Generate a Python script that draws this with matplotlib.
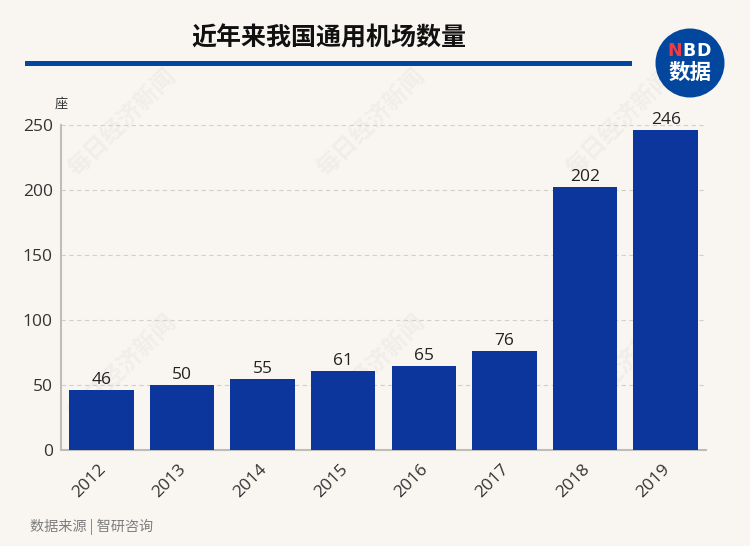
import matplotlib
matplotlib.use('Agg')
import matplotlib.pyplot as plt
from matplotlib.patches import Circle, Rectangle
from matplotlib.transforms import ScaledTranslation

plt.rcParams['font.family'] = ['Noto Sans CJK SC', 'DejaVu Sans']

years = ['2012', '2013', '2014', '2015', '2016', '2017', '2018', '2019']
counts = [46, 50, 55, 61, 65, 76, 202, 246]
y_ticks = [0, 50, 100, 150, 200, 250]

W, H = 750, 546
BG = '#f9f6f2'
BAR = '#0d369c'
NAVY = '#02479d'
NUM_FONT = 'Open Sans'

fig = plt.figure(figsize=(W / 100, H / 100), dpi=100, facecolor=BG)

# 배경 레이어 (워터마크), 막대 뒤에 그린다
back = fig.add_axes([0, 0, 1, 1], facecolor='none')
back.set_xlim(0, W)
back.set_ylim(H, 0)
back.axis('off')
for cx, cy in [(122, 122), (371, 122), (620, 122), (122, 368), (371, 368), (620, 368)]:
    back.text(cx, cy, '每日经济新闻', fontsize=17, fontweight='bold', color='#f1ede8',
              rotation=45, ha='center', va='center')

ax = fig.add_axes([61 / W, 1 - 450 / H, 645 / W, 325 / H], facecolor='none')

# 막대
ax.bar(range(len(years)), counts, width=0.8, color=BAR, zorder=3)
for i, v in enumerate(counts):
    ax.text(i, v + 1.5, str(v), ha='center', va='bottom', fontsize=12.5, color='#222222',
            family=NUM_FONT, zorder=4)

ax.set_xlim(-0.5, 7.5)
ax.set_ylim(0, 250)
ax.set_yticks(y_ticks)
ax.set_xticks(range(len(years)))
ax.set_xticklabels(years, rotation=45, ha='center', family=NUM_FONT)
ax.set_yticklabels([str(t) for t in y_ticks], family=NUM_FONT)
ax.tick_params(axis='both', length=0, labelsize=12.5, labelcolor='#333333')
ax.tick_params(axis='x', pad=8)
ax.tick_params(axis='y', pad=6)

# x축 라벨을 왼쪽으로 이동
shift = ScaledTranslation(-12 / 100, 0, fig.dpi_scale_trans)
for lab in ax.get_xticklabels():
    lab.set_transform(lab.get_transform() + shift)

ax.yaxis.grid(True, color='#d2d0cc', linestyle=(0, (4, 3)), linewidth=0.8, zorder=1)
ax.set_axisbelow(True)
for s in ['top', 'right']:
    ax.spines[s].set_visible(False)
for s in ['left', 'bottom']:
    ax.spines[s].set_color('#bfbdba')
    ax.spines[s].set_linewidth(1.5)

# 제목, 단위, 출처
fig.text(329 / W, 1 - 38 / H, '近年来我国通用机场数量', fontsize=18, fontweight='bold', color='#111111',
         ha='center', va='center')
fig.text(61 / W, 1 - 104 / H, '座', fontsize=9.5, color='#333333', ha='center', va='center')
fig.text(30 / W, 1 - 527 / H, '数据来源 | 智研咨询', fontsize=10.2, color='#7d7d7d', ha='left', va='center')

# 제목 아래 파란 선
fig.add_artist(Rectangle((25 / W, 1 - 66 / H), 607 / W, 5 / H, transform=fig.transFigure,
                         facecolor=NAVY, edgecolor='none'))

# 로고
logo = fig.add_axes([0, 0, 1, 1], facecolor='none')
logo.set_xlim(0, W)
logo.set_ylim(H, 0)
logo.axis('off')
logo.add_patch(Circle((690, 63), 34.5, facecolor=NAVY, edgecolor='none'))
for ch, cx, col in [('N', 674.5, '#ee3b44'), ('B', 689.5, 'white'), ('D', 704, 'white')]:
    logo.text(cx, 50.5, ch, fontsize=12.5, fontweight='bold', color=col, ha='center', va='center',
              family='DejaVu Sans')
logo.text(690, 72, '数据', fontsize=15.5, fontweight='bold', color='white', ha='center', va='center')

fig.savefig('out.png', dpi=100, facecolor=BG)
